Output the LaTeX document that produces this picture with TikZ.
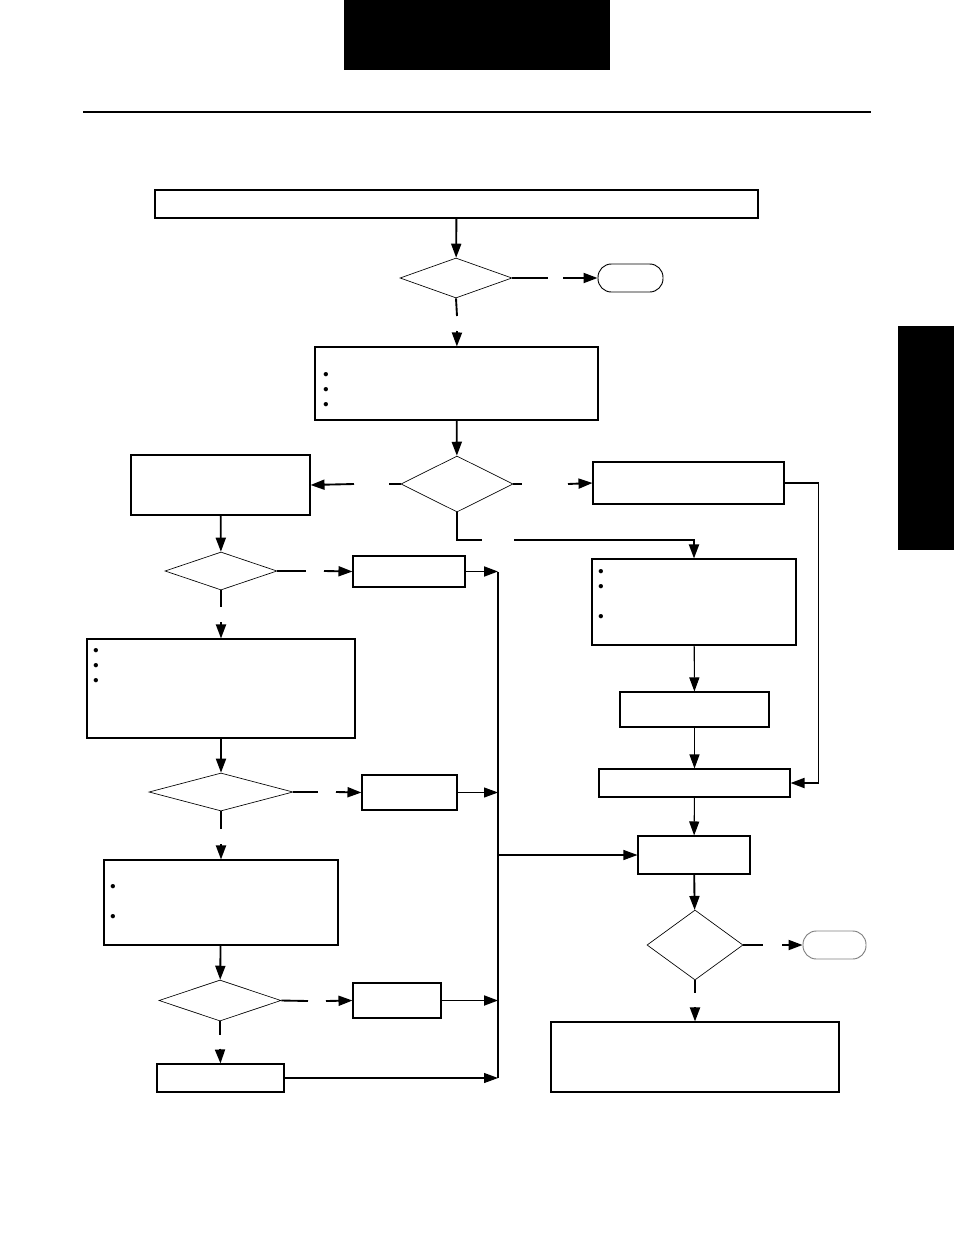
\documentclass[tikz,border=0pt]{standalone}
\usepackage{tikz}
\usetikzlibrary{arrows.meta,%
	shapes.geometric}

\begin{document}
\begin{tikzpicture}[x=0.75pt,y=-0.75pt,
	box_node/.style 2 args={rectangle,draw,line width=0.8pt,inner sep=0pt,minimum width=#1*0.75pt,minimum height=#2*0.75pt},
	dec_node/.style 2 args={diamond,draw,line width=0.5pt,inner sep=0pt,minimum width=#1*0.75pt,minimum height=#2*0.75pt},
	end_node/.style 2 args={rectangle,draw,rounded corners=10pt,line width=0.7pt,inner sep=0pt,minimum width=#1*0.75pt,minimum height=#2*0.75pt},
	dot_node/.style={inner sep=0pt,font=\large},
	conn/.style={line width=1.4pt},
	arr/.style={conn,-{Triangle[length=10.5pt,width=7.5pt]}},
	thin_arr/.style={line width=0.8pt,-{Triangle[length=10.5pt,width=7.5pt]}}]

		\useasboundingbox (0,0) rectangle (954,1235);
		\fill (344,0) rectangle (610,70);
		\fill (898,326) rectangle (954,550);
		\draw[line width=1.6pt] (83,112) -- (871,112);

		\node[box_node={603}{28}] (1) at (456.5,204) {};
		\node[dec_node={112}{40}] (2) at (456,278) {};
		\node[end_node={65}{28}] (3) at (630.5,278) {};
		\node[box_node={283}{73}] (4) at (456.5,383.5) {};
		\node[dec_node={112}{56}] (5) at (457,484) {};
		\node[box_node={179}{60}] (6) at (220.5,485) {};
		\node[box_node={191}{42}] (7) at (688.5,483) {};
		\node[box_node={204}{86}] (8) at (694,602) {};
		\node[box_node={149}{35}] (9) at (694.5,709.5) {};
		\node[box_node={191}{28}] (10) at (694.5,783) {};
		\node[box_node={112}{38}] (11) at (694,855) {};
		\node[dec_node={96}{70}] (12) at (695,945) {};
		\node[end_node={63}{28},draw=gray] (13) at (834.5,945) {};
		\node[box_node={288}{70}] (14) at (695,1057) {};
		\node[dec_node={112}{38}] (15) at (221,571) {};
		\node[box_node={112}{31}] (16) at (409,571.5) {};
		\node[box_node={268}{99}] (17) at (221,688.5) {};
		\node[dec_node={144}{38}] (18) at (221,792) {};
		\node[box_node={95}{35}] (19) at (409.5,792.5) {};
		\node[box_node={234}{85}] (20) at (221,902.5) {};
		\node[dec_node={122}{41}] (21) at (220,1000.5) {};
		\node[box_node={88}{35}] (22) at (397,1000.5) {};
		\node[box_node={127}{28}] (23) at (220.5,1078) {};

		% bullets
		\foreach \y in {375,390,405} \node[dot_node] (d4\y) at (326,\y) {\textbullet};
		\foreach \y in {572,587,617} \node[dot_node] (d8\y) at (601,\y) {\textbullet};
		\foreach \y in {651,666,681} \node[dot_node] (d17\y) at (96,\y) {\textbullet};
		\foreach \y in {887,917} \node[dot_node] (d20\y) at (113,\y) {\textbullet};

		% gaps and bus
		\coordinate (g1) at (548,278);
		\coordinate (g2) at (563,278);
		\coordinate (g3) at (457,316);
		\coordinate (g4) at (457,331);
		\coordinate (g5) at (389,484);
		\coordinate (g6) at (354,484);
		\coordinate (g7) at (522,484);
		\coordinate (g8) at (568,484);
		\coordinate (g9) at (482,540);
		\coordinate (g10) at (514,540);
		\coordinate (g11) at (763,945);
		\coordinate (g12) at (782,945);
		\coordinate (g13) at (695,993);
		\coordinate (g14) at (695,1007);
		\coordinate (g15) at (306,571);
		\coordinate (g16) at (324,571);
		\coordinate (g17) at (221,607);
		\coordinate (g18) at (221,622);
		\coordinate (g19) at (318,792);
		\coordinate (g20) at (336,792);
		\coordinate (g21) at (221,829);
		\coordinate (g22) at (221,844);
		\coordinate (g23) at (308,1001);
		\coordinate (g24) at (326,1001);
		\coordinate (g25) at (220,1035);
		\coordinate (g26) at (220,1049);
		\coordinate (bus1) at (498,572);
		\coordinate (bus2) at (498,1078);

		\draw[arr] (1) -- (2);
		\draw[line width=0.8pt] (2.east) -- (g1);
		\draw[arr] (g2) -- (3);
		\draw[conn] (2.south) -- (g3);
		\draw[arr] (g4) -- (4);
		\draw[arr] (4) -- (5);
		\draw[conn] (5.west) -- (g5);
		\draw[arr] (g6) -- (6.east);
		\draw[conn] (5.east) -- (g7);
		\draw[arr] (g8) -- (7.west);
		\draw[arr] (7.east) -- ++(34,0) |- (10.east);
		\draw[conn] (5.south) |- (g9);
		\draw[arr] (g10) -| (8.north);
		\draw[thin_arr] (8) -- (9);
		\draw[thin_arr] (9) -- (10);
		\draw[thin_arr] (10) -- (11);
		\draw[arr] (11) -- (12);
		\draw[conn] (12.east) -- (g11);
		\draw[arr] (g12) -- (13.west);
		\draw[line width=0.8pt] (12.south) -- (g13);
		\draw[arr] (g14) -- (14.north);

		\draw[arr] (6) -- (15);
		\draw[line width=0.8pt] (15.east) -- (g15);
		\draw[arr] (g16) -- (16.west);
		\draw[arr] (16.east) -- (16.east -| bus1);
		\draw[conn] (15.south) -- (g17);
		\draw[arr] (g18) -- (17.north);
		\draw[arr] (17) -- (18);
		\draw[line width=0.8pt] (18.east) -- (g19);
		\draw[arr] (g20) -- (19.west);
		\draw[thin_arr] (19.east) -- (19.east -| bus1);
		\draw[conn] (18.south) -- (g21);
		\draw[arr] (g22) -- (20.north);
		\draw[arr] (20) -- (21);
		\draw[conn] (21.east) -- (g23);
		\draw[arr] (g24) -- (22.west);
		\draw[arr] (22.east) -- (22.east -| bus1);
		\draw[conn] (21.south) -- (g25);
		\draw[arr] (g26) -- (23.north);
		\draw[thin_arr] (23.east) -- (23.east -| bus1);
		\draw[line width=1.6pt] (bus1) -- (bus2);
		\draw[thin_arr] (11.west -| bus1) -- (11.west);
		\end{tikzpicture}
\end{document}
